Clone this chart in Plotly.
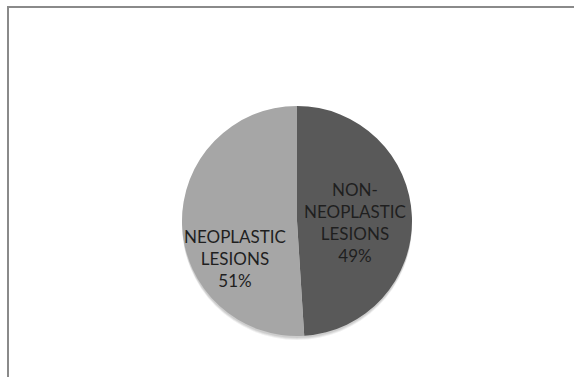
import plotly.graph_objects as go

categories = ["NON-NEOPLASTIC LESIONS", "NEOPLASTIC LESIONS"]
label_lines = [["NON-", "NEOPLASTIC", "LESIONS"], ["NEOPLASTIC", "LESIONS"]]
values = [49, 51]
colors = ["#595959", "#a6a6a6"]

W, H = 574, 377
cx, cy, r = 297, 221, 115
# label block centres (pixels)
label_pos = [(355, 222), (235, 258)]

fig = go.Figure(go.Pie(
    labels=categories,
    values=values,
    sort=False,
    direction="clockwise",
    rotation=0,
    marker=dict(colors=colors, line=dict(width=0)),
    textinfo="none",
    hoverinfo="skip",
    showlegend=False,
    domain=dict(x=[(cx - r) / W, (cx + r) / W], y=[(H - cy - r) / H, (H - cy + r) / H]),
))

total = sum(values)
for lines, v, (px, py) in zip(label_lines, values, label_pos):
    txt = "<br>".join(lines + [f"{round(100 * v / total)}%"])
    fig.add_annotation(x=px / W, y=1 - py / H, xref="paper", yref="paper",
                       text=txt, showarrow=False, align="center",
                       xanchor="center", yanchor="middle",
                       font=dict(family="Lato", size=17, color="#1f1f1f"))

# soft shadow under the pie
for off, a in [(4, 0.06), (3, 0.07), (2, 0.08)]:
    fig.add_shape(type="circle", xref="paper", yref="paper", layer="below",
                  x0=(cx - r) / W, x1=(cx + r) / W,
                  y0=(H - cy - r - off) / H, y1=(H - cy + r - off) / H,
                  line=dict(width=0), fillcolor=f"rgba(0,0,0,{a})")

fig.add_shape(type="rect", xref="paper", yref="paper",
              x0=8 / W, x1=1.05, y0=-0.05, y1=1 - 7 / H,
              line=dict(color="#8a8a8a", width=2), fillcolor="rgba(0,0,0,0)")

fig.update_layout(
    width=W, height=H,
    margin=dict(l=0, r=0, t=0, b=0),
    paper_bgcolor="white", plot_bgcolor="white",
)

fig.write_html("out.html")
